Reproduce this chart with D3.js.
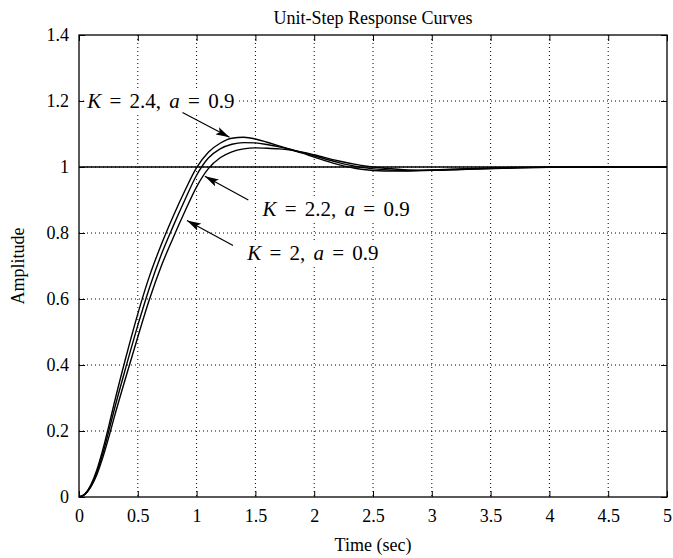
<!DOCTYPE html>
<html><head><meta charset="utf-8">
<script src="https://cdn.jsdelivr.net/npm/d3@7"></script>
<style>
body{margin:0;background:#fff;}
svg text{font-family:'Liberation Serif','Times New Roman',serif;fill:#000;}
</style></head>
<body><svg id="c" width="673" height="558"></svg>
<script>
const times = [0,0.05,0.1,0.15,0.2,0.25,0.3,0.4,0.5,0.6,0.7,0.8,0.9,1.0,1.1,1.2,1.3,1.4,1.5,1.6,1.7,1.8,1.9,2.0,2.2,2.4,2.6,2.8,3.0,3.3,3.6,4.0,4.5,5.0];
const respK24 = [0,0.009,0.036,0.08,0.14,0.21,0.285,0.425,0.555,0.67,0.765,0.85,0.928,0.998,1.045,1.072,1.087,1.09,1.085,1.075,1.064,1.053,1.042,1.030,1.008,0.993,0.988,0.988,0.991,0.995,0.998,1.0,1.0,1.0];
const respK22 = [0,0.008,0.033,0.073,0.128,0.195,0.265,0.395,0.52,0.635,0.735,0.82,0.9,0.975,1.027,1.055,1.069,1.074,1.073,1.068,1.061,1.053,1.044,1.034,1.014,0.999,0.992,0.989,0.990,0.994,0.997,0.999,1.0,1.0];
const respK20 = [0,0.0075,0.03,0.066,0.117,0.177,0.242,0.365,0.485,0.6,0.7,0.785,0.865,0.94,0.995,1.028,1.046,1.055,1.058,1.057,1.055,1.051,1.045,1.037,1.019,1.005,0.996,0.991,0.99,0.993,0.996,0.999,1.0,1.0];
const xTicks = [0,0.5,1,1.5,2,2.5,3,3.5,4,4.5,5];
const yTicks = [0,0.2,0.4,0.6,0.8,1,1.2,1.4];
const title = "Unit-Step Response Curves";
const xLabel = "Time (sec)";
const yLabel = "Amplitude";
const labels = [
  {K:"2.4", a:"0.9", tx:0.07, ty:1.2, ax:0.88, ay:1.165, bx:1.28, by:1.09},
  {K:"2.2", a:"0.9", tx:1.56, ty:0.875, ax:1.44, ay:0.9, bx:1.07, by:0.972},
  {K:"2", a:"0.9", tx:1.43, ty:0.74, ax:1.31, ay:0.762, bx:0.918, by:0.838}
];

const FONT = "'Liberation Serif','Times New Roman',serif";
const W=673,H=558, L=79, R=667, T=35, B=497;
const svg = d3.select("#c");
const x = d3.scaleLinear().domain([0,5]).range([L,R]);
const y = d3.scaleLinear().domain([0,1.4]).range([B,T]);

// grid
const g = svg.append("g");
g.selectAll(".gx").data(xTicks.slice(1,-1)).enter().append("line")
 .attr("x1",d=>x(d)).attr("x2",d=>x(d)).attr("y1",T).attr("y2",B)
 .attr("stroke","#000").attr("stroke-width",1).attr("stroke-dasharray","1,3");
g.selectAll(".gy").data(yTicks.slice(1,-1)).enter().append("line")
 .attr("y1",d=>y(d)).attr("y2",d=>y(d)).attr("x1",L).attr("x2",R)
 .attr("stroke","#000").attr("stroke-width",1).attr("stroke-dasharray","1,3");

// reference line at 1
svg.append("line").attr("x1",L).attr("x2",R).attr("y1",y(1)).attr("y2",y(1))
 .attr("stroke","#000").attr("stroke-width",1.3);

// axes with inward ticks
const axB = svg.append("g").attr("transform",`translate(0,${B})`)
 .call(d3.axisBottom(x).tickValues(xTicks).tickSize(-6).tickPadding(12).tickFormat(d=>String(d)));
const axT = svg.append("g").attr("transform",`translate(0,${T})`)
 .call(d3.axisTop(x).tickValues(xTicks).tickSize(-6).tickFormat(""));
const axL = svg.append("g").attr("transform",`translate(${L},0)`)
 .call(d3.axisLeft(y).tickValues(yTicks).tickSize(-6).tickPadding(10).tickFormat(d=>String(d)));
const axR = svg.append("g").attr("transform",`translate(${R},0)`)
 .call(d3.axisRight(y).tickValues(yTicks).tickSize(-6).tickFormat(""));
[axB,axT,axL,axR].forEach(a=>{
  a.attr("font-family",FONT).attr("font-size",18);
  a.select(".domain").remove();
  a.selectAll("line").attr("stroke","#000");
  a.selectAll("text").style("font-family",FONT).style("font-size","18px");
});
axB.selectAll("text").attr("dy","0.71em");
svg.append("rect").attr("x",L).attr("y",T).attr("width",R-L).attr("height",B-T)
 .attr("fill","none").attr("stroke","#000").attr("stroke-width",1.3);

// curves
const line = d3.line().x((d,i)=>x(times[i])).y(d=>y(d)).curve(d3.curveMonotoneX);
[respK24,respK22,respK20].forEach(s=>{
  svg.append("path").datum(s).attr("d",line).attr("fill","none")
   .attr("stroke","#000").attr("stroke-width",1.4);
});

// annotations
const defs = svg.append("defs");
defs.append("marker").attr("id","ah").attr("viewBox","0 0 14 8").attr("refX",14).attr("refY",4)
 .attr("markerWidth",14).attr("markerHeight",8).attr("markerUnits","userSpaceOnUse").attr("orient","auto")
 .append("path").attr("d","M0,0 L14,4 L0,8 L3,4 Z").attr("fill","#000");
labels.forEach(l=>{
  const t = svg.append("text").attr("x",x(l.tx)).attr("y",y(l.ty)).attr("dy","0.35em")
    .style("font-family",FONT).style("font-size","21px").style("word-spacing","3px");
  t.append("tspan").style("font-style","italic").text("K");
  t.append("tspan").text(` = ${l.K}, `);
  t.append("tspan").style("font-style","italic").text("a");
  t.append("tspan").text(` = ${l.a}`);
  const bb = t.node().getBBox();
  svg.insert("rect", () => t.node()).attr("x",bb.x-2).attr("y",bb.y).attr("width",bb.width+4).attr("height",bb.height).attr("fill","#fff");
  svg.append("line").attr("x1",x(l.ax)).attr("y1",y(l.ay)).attr("x2",x(l.bx)).attr("y2",y(l.by))
   .attr("stroke","#000").attr("stroke-width",1.2).attr("marker-end","url(#ah)");
});

svg.append("text").attr("x",(L+R)/2).attr("y",24).attr("text-anchor","middle").style("font-family",FONT).style("font-size","18px").text(title);
svg.append("text").attr("x",(L+R)/2).attr("y",551).attr("text-anchor","middle").style("font-family",FONT).style("font-size","18px").text(xLabel);
svg.append("text").attr("transform",`translate(24,${(T+B)/2}) rotate(-90)`).attr("text-anchor","middle").style("font-family",FONT).style("font-size","18px").text(yLabel);
</script></body></html>
